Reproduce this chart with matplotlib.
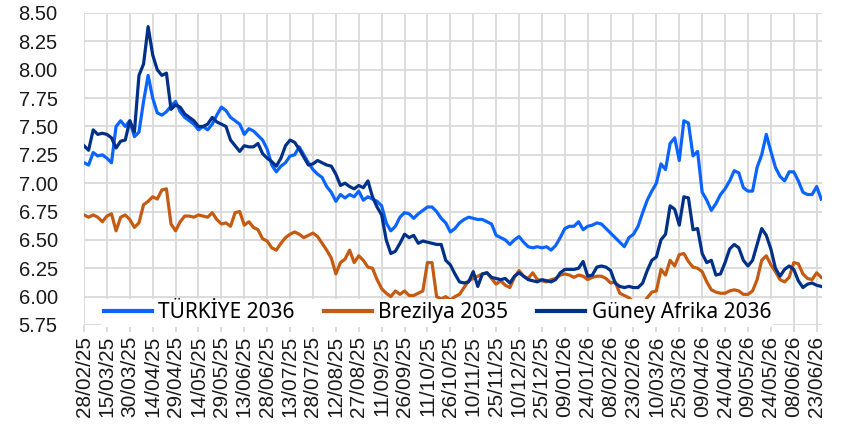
import matplotlib
matplotlib.use("Agg")
import matplotlib.pyplot as plt
import matplotlib.dates as mdates
import pandas as pd
import numpy as np

# ---- data (3-day sampling) ----
start_date = "2025-02-28"
n_points = 162
tick_start = "2025-02-28"
tick_end = "2026-06-23"
tick_step_days = 15

turkiye_2036 = [
    7.18, 7.16, 7.27, 7.24, 7.25, 7.22, 7.18, 7.50, 7.55, 7.50,
    7.55, 7.41, 7.45, 7.72, 7.95, 7.75, 7.62, 7.60, 7.63, 7.68,
    7.72, 7.63, 7.58, 7.55, 7.52, 7.47, 7.50, 7.47, 7.52, 7.60,
    7.67, 7.64, 7.58, 7.55, 7.52, 7.43, 7.48, 7.46, 7.42, 7.38,
    7.30, 7.16, 7.10, 7.15, 7.18, 7.24, 7.25, 7.32, 7.25, 7.18,
    7.12, 7.08, 7.05, 6.97, 6.92, 6.84, 6.90, 6.87, 6.90, 6.88,
    6.93, 6.85, 6.88, 6.86, 6.84, 6.80, 6.65, 6.58, 6.62, 6.70,
    6.74, 6.73, 6.69, 6.73, 6.76, 6.79, 6.79, 6.75, 6.69, 6.65,
    6.57, 6.60, 6.65, 6.68, 6.70, 6.69, 6.68, 6.68, 6.66, 6.64,
    6.54, 6.52, 6.50, 6.46, 6.50, 6.53, 6.48, 6.44, 6.43, 6.44,
    6.43, 6.44, 6.41, 6.45, 6.52, 6.60, 6.62, 6.62, 6.66, 6.59,
    6.62, 6.63, 6.65, 6.64, 6.60, 6.56, 6.52, 6.48, 6.44, 6.52,
    6.55, 6.62, 6.74, 6.85, 6.93, 7.00, 7.17, 7.12, 7.35, 7.40,
    7.20, 7.55, 7.53, 7.24, 7.28, 6.92, 6.85, 6.76, 6.82, 6.90,
    6.95, 7.02, 7.11, 7.09, 6.96, 6.93, 6.93, 7.14, 7.25, 7.43,
    7.28, 7.14, 7.06, 7.02, 7.10, 7.10, 7.02, 6.92, 6.90, 6.90,
    6.97, 6.86,
]

brezilya_2035 = [
    6.72, 6.70, 6.72, 6.70, 6.66, 6.71, 6.73, 6.58, 6.70, 6.72,
    6.68, 6.61, 6.65, 6.81, 6.84, 6.88, 6.86, 6.94, 6.95, 6.64,
    6.58, 6.66, 6.71, 6.71, 6.70, 6.72, 6.71, 6.70, 6.74, 6.68,
    6.64, 6.65, 6.62, 6.74, 6.75, 6.63, 6.66, 6.61, 6.59, 6.51,
    6.49, 6.43, 6.41, 6.47, 6.52, 6.55, 6.57, 6.55, 6.52, 6.54,
    6.56, 6.53, 6.47, 6.41, 6.34, 6.20, 6.30, 6.33, 6.41, 6.30,
    6.36, 6.32, 6.26, 6.25, 6.15, 6.07, 6.03, 6.00, 6.05, 6.02,
    6.05, 6.01, 6.01, 6.03, 6.05, 6.30, 6.30, 6.00, 5.98, 6.00,
    5.97, 6.00, 6.02, 6.08, 6.14, 6.16, 6.18, 6.20, 6.21, 6.16,
    6.11, 6.14, 6.10, 6.08, 6.17, 6.23, 6.18, 6.16, 6.21, 6.15,
    6.14, 6.13, 6.15, 6.16, 6.19, 6.20, 6.19, 6.17, 6.19, 6.18,
    6.15, 6.17, 6.18, 6.18, 6.16, 6.12, 6.13, 6.03, 6.01, 5.99,
    5.95, 5.91, 5.93, 5.99, 6.04, 6.05, 6.24, 6.19, 6.32, 6.27,
    6.37, 6.38, 6.31, 6.26, 6.25, 6.22, 6.13, 6.06, 6.04, 6.03,
    6.03, 6.05, 6.06, 6.05, 6.02, 6.02, 6.05, 6.15, 6.32, 6.36,
    6.28, 6.22, 6.15, 6.13, 6.17, 6.30, 6.29, 6.20, 6.16, 6.15,
    6.21, 6.17,
]

guney_afrika_2036 = [
    7.33, 7.29, 7.47, 7.43, 7.44, 7.43, 7.40, 7.31, 7.37, 7.38,
    7.55, 7.45, 7.95, 8.05, 8.38, 8.13, 8.00, 7.95, 7.97, 7.65,
    7.69, 7.67, 7.61, 7.58, 7.55, 7.50, 7.50, 7.52, 7.58, 7.54,
    7.52, 7.50, 7.38, 7.33, 7.28, 7.33, 7.32, 7.32, 7.35, 7.26,
    7.22, 7.19, 7.15, 7.22, 7.33, 7.38, 7.36, 7.30, 7.23, 7.16,
    7.17, 7.20, 7.18, 7.16, 7.15, 7.08, 6.98, 7.00, 6.97, 6.95,
    6.98, 6.96, 7.02, 6.88, 6.79, 6.72, 6.50, 6.38, 6.40, 6.47,
    6.55, 6.52, 6.54, 6.47, 6.49, 6.48, 6.47, 6.46, 6.46, 6.32,
    6.28, 6.20, 6.13, 6.12, 6.13, 6.22, 6.09, 6.20, 6.21, 6.17,
    6.16, 6.15, 6.16, 6.12, 6.18, 6.21, 6.18, 6.15, 6.14, 6.13,
    6.15, 6.14, 6.13, 6.15, 6.21, 6.24, 6.24, 6.24, 6.25, 6.31,
    6.18, 6.19, 6.26, 6.27, 6.26, 6.23, 6.12, 6.09, 6.08, 6.09,
    6.08, 6.08, 6.12, 6.23, 6.32, 6.35, 6.50, 6.55, 6.80, 6.77,
    6.63, 6.88, 6.87, 6.59, 6.60, 6.38, 6.30, 6.32, 6.19, 6.20,
    6.30, 6.42, 6.46, 6.43, 6.32, 6.27, 6.32, 6.46, 6.60, 6.54,
    6.42, 6.25, 6.18, 6.24, 6.27, 6.24, 6.14, 6.08, 6.11, 6.12,
    6.10, 6.09,
]

series_names = ["TÜRKİYE 2036", "Brezilya 2035", "Güney Afrika 2036"]
series_colors = ["#0A64FF", "#C55A11", "#003087"]

y_min, y_max, y_step = 5.75, 8.50, 0.25

# ---- plot ----
dates = pd.date_range(start_date, periods=n_points, freq="3D")
tick_dates = pd.date_range(tick_start, tick_end, freq=f"{tick_step_days}D")

fig = plt.figure(figsize=(8.41, 4.36), dpi=100)
ax = fig.add_axes([0.0999, 0.2546, 0.8775, 0.7156])

grid_color = "#D9D9D9"
for vals, name, col in zip([turkiye_2036, brezilya_2035, guney_afrika_2036],
                           series_names, series_colors):
    ax.plot(dates, vals, color=col, lw=2.3, label=name, solid_joinstyle="round", zorder=3)

ax.set_ylim(y_min, y_max)
ax.set_yticks(np.arange(y_min, y_max + 1e-9, y_step))
ax.yaxis.set_major_formatter(matplotlib.ticker.FormatStrFormatter("%.2f"))
ax.set_xlim(dates[0], dates[-1] + pd.Timedelta(days=0.5))
ax.set_xticks(tick_dates)
ax.xaxis.set_major_formatter(mdates.DateFormatter("%d/%m/%y"))

for s in ax.spines.values():
    s.set_visible(False)
ax.grid(True, color=grid_color, lw=1.3, zorder=0)
ax.set_axisbelow(True)
ax.tick_params(axis="y", length=0, pad=19, labelsize=14.5, labelcolor="#1a1a1a")
ax.tick_params(axis="x", length=5, width=1.3, color=grid_color, pad=3,
               labelsize=15, labelcolor="#1a1a1a", labelrotation=90)
for lab in ax.get_xticklabels() + ax.get_yticklabels():
    lab.set_fontfamily("Liberation Sans")

leg = ax.legend(loc="lower left", bbox_to_anchor=(0.023, -0.005), ncol=3,
                frameon=True, framealpha=1, facecolor="white", edgecolor="none",
                handlelength=2.3, handletextpad=0.3,
                columnspacing=1.4, borderpad=0.15, borderaxespad=0.0,
                prop={"family": "Noto Sans", "size": 15})
leg.get_frame().set_linewidth(0)
for h in leg.get_lines():
    h.set_linewidth(3)

fig.savefig("out.png", dpi=100)
